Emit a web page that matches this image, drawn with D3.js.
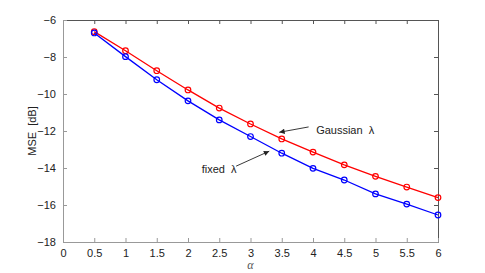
<!DOCTYPE html>
<html>
<head>
<meta charset="utf-8">
<script src="https://cdn.jsdelivr.net/npm/d3@7"></script>
<style>
  body { margin: 0; background: #fff; }
  text { font-family: "Liberation Sans", Arial, sans-serif; white-space: pre; }
</style>
</head>
<body>
<div id="chart"></div>
<script>
var alphas = [0.5, 1, 1.5, 2, 2.5, 3, 3.5, 4, 4.5, 5, 5.5, 6];
var gaussianMse = [-6.63, -7.66, -8.74, -9.78, -10.76, -11.62, -12.43, -13.14, -13.83, -14.45, -15.03, -15.6];
var fixedMse = [-6.7, -7.98, -9.23, -10.37, -11.4, -12.3, -13.2, -14.02, -14.65, -15.4, -15.95, -16.54];
var xTicks = [0, 0.5, 1, 1.5, 2, 2.5, 3, 3.5, 4, 4.5, 5, 5.5, 6];
var yTicks = [-6, -8, -10, -12, -14, -16, -18];

var W = 485, H = 273;
var margin = { top: 20, right: 47, bottom: 31, left: 63 },
    width = W - margin.left - margin.right,
    height = H - margin.top - margin.bottom;

var svg = d3.select("#chart")
    .append("svg")
    .attr("width", W)
    .attr("height", H)
    .append("g")
    .attr("transform", "translate(" + margin.left + "," + margin.top + ")");

var x = d3.scaleLinear().domain([0, 6]).range([0, width]);
var y = d3.scaleLinear().domain([-18, -6]).range([height, 0]);

// box: top and right edges with inward ticks
svg.append("g")
    .call(d3.axisTop(x).tickValues(xTicks).tickSize(-4).tickFormat(""))
    .call(function (g) { g.selectAll("line, path").attr("stroke", "#555"); });
svg.append("g")
    .attr("transform", "translate(" + width + ",0)")
    .call(d3.axisRight(y).tickValues(yTicks).tickSize(-4).tickFormat(""))
    .call(function (g) { g.selectAll("line, path").attr("stroke", "#555"); });

var xAxis = svg.append("g")
    .attr("transform", "translate(0," + height + ")")
    .call(d3.axisBottom(x).tickValues(xTicks).tickSize(-4).tickPadding(7).tickSizeOuter(0)
        .tickFormat(function (d) { return d; }));
var yAxis = svg.append("g")
    .call(d3.axisLeft(y).tickValues(yTicks).tickSize(-4).tickPadding(7).tickSizeOuter(0));

[xAxis, yAxis].forEach(function (g) {
    g.selectAll("line, path").attr("stroke", "#999");
    g.selectAll("text")
        .style("font-family", "'Liberation Sans', Arial, sans-serif")
        .style("font-size", "11px")
        .attr("fill", "#222");
});

var series = [
    { name: "Gaussian", color: "#ff0000", values: gaussianMse },
    { name: "fixed", color: "#0000ff", values: fixedMse }
];

var line = d3.line()
    .x(function (d, i) { return x(alphas[i]); })
    .y(function (d) { return y(d); });

series.forEach(function (s) {
    svg.append("path")
        .attr("d", line(s.values))
        .attr("fill", "none")
        .attr("stroke", s.color)
        .attr("stroke-width", 1.3);
    svg.selectAll(null)
        .data(s.values)
        .enter()
        .append("circle")
        .attr("cx", function (d, i) { return x(alphas[i]); })
        .attr("cy", function (d) { return y(d); })
        .attr("r", 2.8)
        .attr("fill", "none")
        .attr("stroke", s.color)
        .attr("stroke-width", 1.2);
});

// annotations
var defs = d3.select("svg").append("defs");
defs.append("marker")
    .attr("id", "arrow")
    .attr("viewBox", "0 0 10 10")
    .attr("refX", 10).attr("refY", 5)
    .attr("markerWidth", 8).attr("markerHeight", 6)
    .attr("orient", "auto")
    .append("path")
    .attr("d", "M0,0L10,5L0,10z")
    .attr("fill", "#222");

var notes = [
    { label: "Gaussian  \u03bb", tx: 4.05, ty: -11.98, from: [3.93, -11.78], to: [3.46, -12.07] },
    { label: "fixed  \u03bb", tx: 2.22, ty: -14.05, from: [2.77, -13.9], to: [3.3, -13.09] }
];

notes.forEach(function (n) {
    svg.append("line")
        .attr("x1", x(n.from[0])).attr("y1", y(n.from[1]))
        .attr("x2", x(n.to[0])).attr("y2", y(n.to[1]))
        .attr("stroke", "#222")
        .attr("stroke-width", 0.9)
        .attr("marker-end", "url(#arrow)");
    svg.append("text")
        .attr("x", x(n.tx))
        .attr("y", y(n.ty))
        .attr("dy", "0.35em")
        .style("font-size", "11px")
        .attr("fill", "#222")
        .text(n.label);
});

// axis labels
svg.append("text")
    .attr("transform", "translate(-27," + (height / 2) + ") rotate(-90)")
    .attr("text-anchor", "middle")
    .style("font-size", "11px")
    .attr("fill", "#222")
    .text("MSE  [dB]");

svg.append("text")
    .attr("x", x(3))
    .attr("y", height + 27)
    .attr("text-anchor", "middle")
    .style("font-family", "'Liberation Serif', serif")
    .style("font-style", "italic")
    .style("font-size", "12px")
    .attr("fill", "#555")
    .text("\u03b1");
</script>
</body>
</html>
